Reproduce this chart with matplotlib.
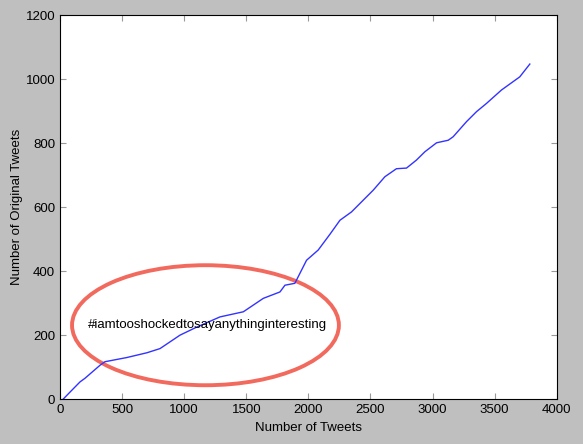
import matplotlib
matplotlib.use('Agg')
import matplotlib.pyplot as plt
from matplotlib.patches import Ellipse

# values
tweets = [25, 80, 161, 200, 322, 362, 537, 700, 805, 966, 1100, 1288, 1476, 1637, 1771, 1811,
          1891, 1985, 2079, 2173, 2254, 2347, 2522, 2616, 2709, 2790, 2870, 2938, 3032, 3126,
          3166, 3273, 3353, 3434, 3555, 3702, 3783]
originals = [0, 22, 54, 65, 106, 117, 130, 145, 158, 200, 225, 257, 273, 315, 335, 356,
             362, 434, 466, 515, 559, 585, 653, 695, 720, 722, 747, 773, 801, 809,
             820, 867, 898, 924, 966, 1007, 1047]
hashtag = '#iamtooshockedtosayanythinginteresting'

plt.rcParams['font.family'] = ['Liberation Sans', 'DejaVu Sans']

fig = plt.figure(figsize=(5.83, 4.44), dpi=100, facecolor='#bfbfbf')
ax = fig.add_axes([0.103, 0.101, 0.852, 0.865])
ax.plot(tweets, originals, color='#3333ff', lw=1)

# red ring round the slow part
ax.add_patch(Ellipse((1171, 231), 2149, 375, fill=False, edgecolor='#f26a5e', lw=2.8))
ax.text(1185, 231, hashtag, ha='center', va='center', fontsize=9.5)

ax.set_xlim(0, 4000)
ax.set_ylim(0, 1200)
ax.set_xticks(range(0, 4001, 500))
ax.set_yticks(range(0, 1201, 200))
ax.tick_params(direction='in', length=4, color='#999999', top=True, right=True, labelsize=9.5)
ax.set_xlabel('Number of Tweets', fontsize=9.5, labelpad=4)
ax.set_ylabel('Number of Original Tweets', fontsize=9.5, labelpad=2)

fig.savefig('out.png', dpi=100, facecolor=fig.get_facecolor())
